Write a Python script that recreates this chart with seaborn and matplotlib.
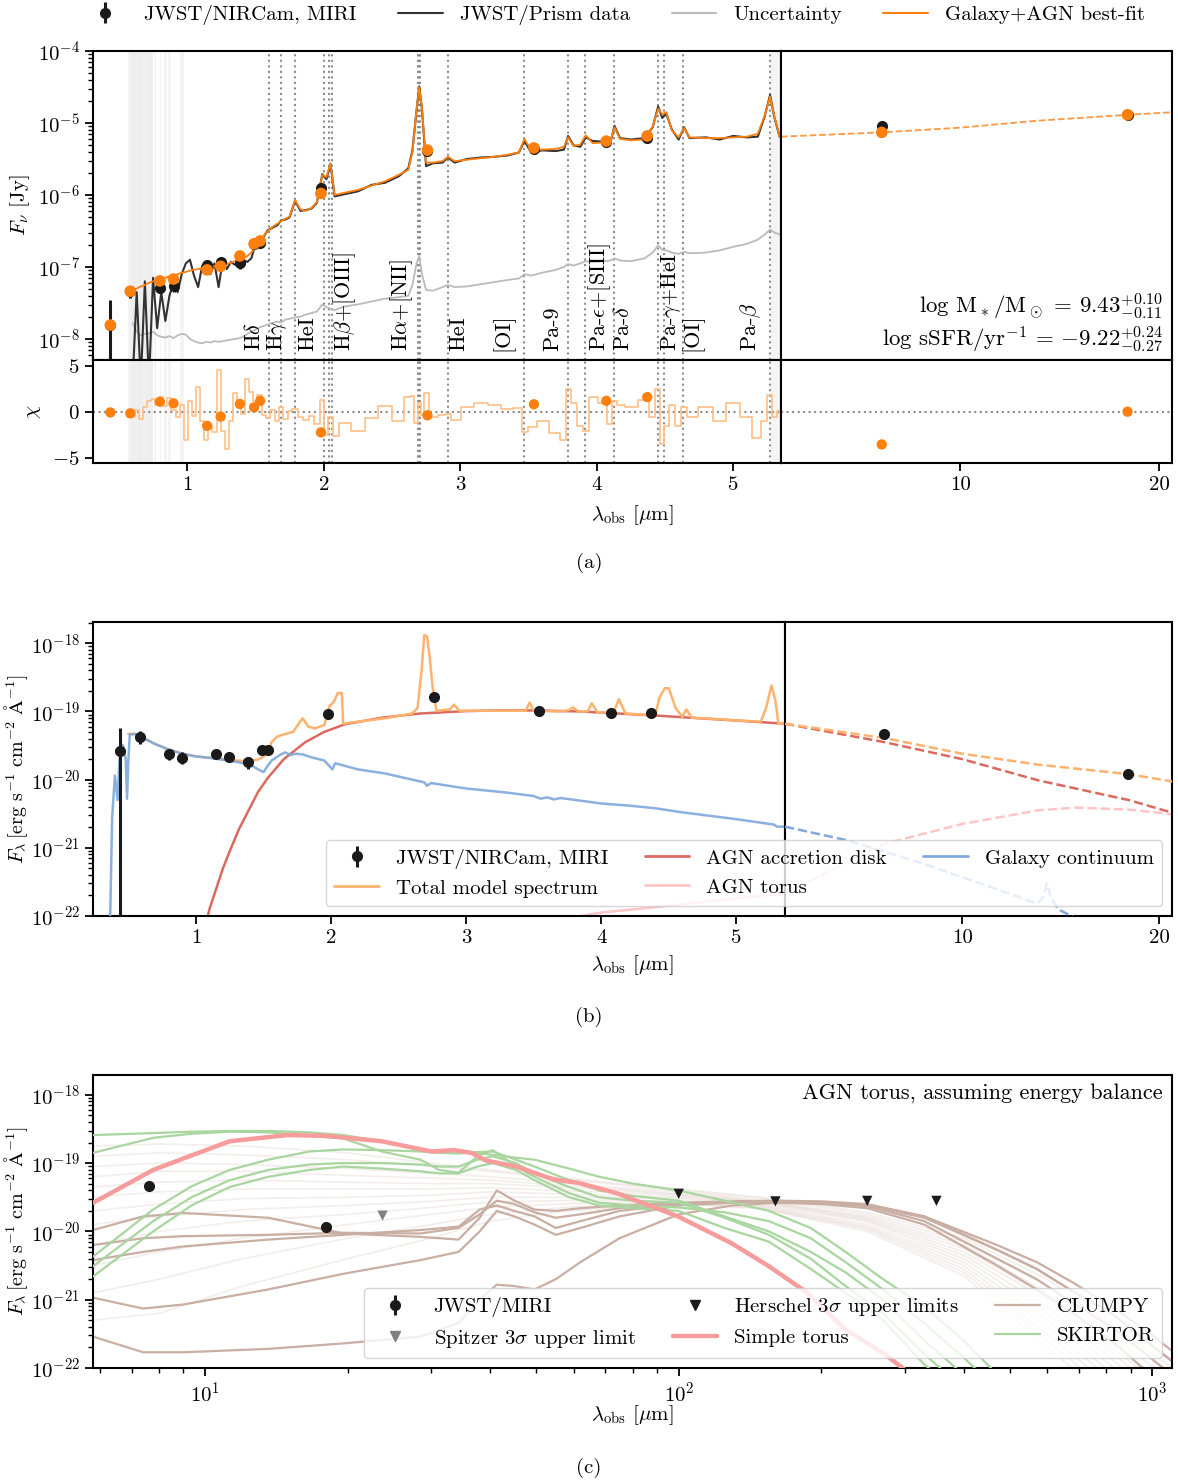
import numpy as np
import matplotlib
matplotlib.use("Agg")
import matplotlib.pyplot as plt
import matplotlib.ticker as mticker
import matplotlib.transforms as mtrans
from matplotlib.lines import Line2D
import seaborn as sns

# ---------------- panel (a): photometry ----------------
phot_wave = [0.437, 0.583, 0.80, 0.90, 1.146, 1.245, 1.386, 1.49, 1.535, 1.98,
             2.76, 3.54, 4.07, 4.37, 7.6, 17.9]
phot_fnu = [1.56e-8, 4.6e-8, 5.1e-8, 5.4e-8, 1.07e-7, 1.17e-7, 1.15e-7, 2.1e-7,
            2.15e-7, 1.25e-6, 4.1e-6, 4.3e-6, 5.4e-6, 6.1e-6, 9.1e-6, 1.30e-5]
phot_fnu_lo = [1.55e-8, 0.9e-8, 0.8e-8, 0.9e-8, 1.2e-8, 1.2e-8, 2.0e-8, 1.5e-8,
               1.5e-8, 0.08e-6, 0.1e-6, 0.1e-6, 0.15e-6, 0.15e-6, 0.3e-6, 0.5e-6]
phot_fnu_hi = [1.94e-8, 0.9e-8, 0.8e-8, 0.9e-8, 1.2e-8, 1.2e-8, 2.0e-8, 1.5e-8,
               1.5e-8, 0.08e-6, 0.1e-6, 0.1e-6, 0.15e-6, 0.15e-6, 0.3e-6, 0.5e-6]
model_phot_fnu = [1.56e-8, 4.6e-8, 6.4e-8, 6.8e-8, 9.1e-8, 1.02e-7, 1.42e-7, 2.1e-7,
                  2.3e-7, 1.05e-6, 4.2e-6, 4.5e-6, 5.6e-6, 6.6e-6, 7.4e-6, 1.30e-5]
phot_chi = [-0.05, -0.15, 1.1, 0.93, -1.5, -0.5, 0.86, 0.5, 1.2, -2.2,
            -0.36, 0.83, 1.2, 1.6, -3.5, 0.03]

# ---------------- panel (a): prism spectrum (log10 Jy) ----------------
spec_wave = [0.60, 0.63, 0.66, 0.69, 0.72, 0.75, 0.78, 0.81, 0.84, 0.87, 0.90, 0.93,
             0.96, 0.99, 1.02, 1.05, 1.08, 1.11, 1.14, 1.17, 1.20, 1.23, 1.26, 1.29,
             1.32, 1.35, 1.38, 1.41, 1.44, 1.47, 1.50, 1.53, 1.56, 1.59, 1.62, 1.66,
             1.69, 1.72, 1.75, 1.79, 1.83, 1.87, 1.91, 1.95, 1.99, 2.02, 2.05, 2.08,
             2.15, 2.25, 2.35, 2.45, 2.55, 2.62, 2.65, 2.68, 2.70, 2.72, 2.75, 2.80,
             2.87, 2.91, 2.96, 3.05, 3.15, 3.25, 3.35, 3.43, 3.47, 3.52, 3.60, 3.70,
             3.76, 3.79, 3.83, 3.88, 3.92, 3.97, 4.05, 4.10, 4.13, 4.17, 4.25, 4.35,
             4.41, 4.45, 4.48, 4.51, 4.55, 4.60, 4.64, 4.68, 4.80, 4.90, 5.00, 5.10,
             5.18, 5.23, 5.27, 5.30, 5.34]
model_log = [-7.33, -7.30, -7.27, -7.25, -7.22, -7.20, -7.18, -7.16, -7.15, -7.13, -7.12, -7.10,
             -7.08, -7.07, -7.05, -7.04, -7.03, -7.02, -7.01, -7.00, -6.99, -6.98, -6.97, -6.96,
             -6.94, -6.92, -6.90, -6.88, -6.85, -6.80, -6.72, -6.65, -6.57, -6.50, -6.45, -6.40,
             -6.36, -6.33, -6.30, -6.07, -6.20, -6.22, -6.18, -6.10, -5.72, -5.75, -5.56, -6.00,
             -5.97, -5.93, -5.87, -5.81, -5.72, -5.65, -5.40, -4.82, -4.50, -4.80, -5.55, -5.55,
             -5.53, -5.47, -5.53, -5.51, -5.49, -5.47, -5.44, -5.41, -5.22, -5.38, -5.37, -5.36,
             -5.33, -5.20, -5.32, -5.30, -5.17, -5.28, -5.27, -5.25, -5.06, -5.22, -5.24, -5.23,
             -5.05, -4.80, -4.88, -4.85, -5.10, -5.20, -5.07, -5.20, -5.21, -5.21, -5.20, -5.19,
             -5.15, -4.90, -4.63, -4.90, -5.19]
data_log = [-8.60, -7.35, -8.60, -7.20, -8.60, -7.15, -7.85, -7.35, -7.75, -7.40, -7.22, -7.35,
            -7.10, -6.95, -6.90, -7.12, -7.28, -6.98, -7.00, -7.10, -6.95, -7.28, -6.92, -7.03,
            -6.93, -6.97, -6.92, -6.90, -6.93, -6.88, -6.68, -6.66, -6.58, -6.49, -6.46, -6.42,
            -6.35, -6.34, -6.31, -6.08, -6.22, -6.21, -6.19, -6.11, -5.71, -5.78, -5.57, -6.02,
            -5.99, -5.95, -5.86, -5.83, -5.74, -5.63, -5.38, -4.83, -4.49, -4.81, -5.60, -5.56,
            -5.55, -5.48, -5.55, -5.50, -5.48, -5.47, -5.45, -5.41, -5.25, -5.41, -5.38, -5.39,
            -5.37, -5.18, -5.31, -5.33, -5.20, -5.25, -5.26, -5.28, -5.04, -5.21, -5.23, -5.21,
            -5.06, -4.77, -4.93, -4.87, -5.09, -5.23, -5.06, -5.21, -5.20, -5.23, -5.18, -5.20,
            -5.19, -4.91, -4.61, -4.91, -5.19]
unc_log = [-7.78, -7.90, -7.95, -7.93, -7.92, -7.90, -7.95, -7.97, -7.98, -7.96, -7.99, -7.95,
           -7.93, -7.94, -8.00, -8.03, -8.05, -8.06, -8.04, -8.05, -8.03, -8.04, -8.03, -8.02,
           -8.01, -8.00, -7.99, -7.97, -7.93, -7.90, -7.87, -7.84, -7.82, -7.80, -7.78, -7.76,
           -7.77, -7.73, -7.72, -7.70, -7.69, -7.66, -7.64, -7.62, -7.52, -7.56, -7.58, -7.60,
           -7.55, -7.52, -7.48, -7.44, -7.42, -7.40, -7.25, -6.95, -6.85, -7.10, -7.32, -7.33,
           -7.28, -7.25, -7.28, -7.27, -7.24, -7.21, -7.18, -7.16, -7.10, -7.12, -7.08, -7.04,
           -7.00, -6.96, -6.98, -6.95, -6.92, -6.93, -6.92, -6.91, -6.88, -6.91, -6.92, -6.88,
           -6.80, -6.70, -6.76, -6.77, -6.80, -6.82, -6.79, -6.81, -6.80, -6.77, -6.72, -6.68,
           -6.62, -6.55, -6.48, -6.52, -6.55]
resid_chi = [-0.5, 0.2, -0.8, 0.5, 1.2, 1.4, 0.8, 1.6, 0.6, 1.5, 0.2, -0.5,
             0.7, -3.0, 1.2, -0.4, 2.7, -1.0, -3.0, -1.5, -2.2, 4.5, -2.0, -4.0,
             -1.0, 2.0, 1.0, -0.2, 3.6, 2.2, 1.2, 1.8, -0.3, -0.6, 0.2, -1.0,
             0.5, -0.8, 0.1, 0.3, -0.5, -0.9, -0.4, -1.3, 1.3, -2.5, -0.5, -2.6,
             -1.2, -2.0, -0.6, 0.6, -1.0, 1.6, 1.7, -1.2, 1.0, -0.3, 2.0, -0.5,
             -0.3, -0.2, -0.9, 0.5, 1.0, 0.7, 0.3, 0.4, -2.2, -1.6, -1.0, -2.3,
             -3.0, 2.5, 1.0, -1.5, -2.0, 1.6, 1.0, -1.3, 1.2, 0.8, 0.5, 1.3,
             -0.5, 2.5, -3.5, -1.5, 0.8, -1.5, 0.5, -0.5, 0.5, -1.0, 1.0, -0.5,
             -2.8, -1.0, 1.8, -0.5, 0.1]

# best-fit beyond the prism range (log10 Jy)
mir_wave = [5.35, 7.6, 10.0, 13.0, 18.0, 21.0]
mir_model_log = [-5.19, -5.13, -5.065, -4.97, -4.885, -4.85]

# masked regions and emission lines
mask_lo = [0.57, 0.58, 0.60, 0.64, 0.70, 0.72, 0.76, 0.80, 0.83, 0.86, 0.95, 5.28]
mask_hi = [0.75, 0.74, 0.62, 0.66, 0.71, 0.75, 0.77, 0.81, 0.85, 0.88, 0.98, 5.36]
line_wave = [1.599, 1.687, 1.789, 2.000, 2.038, 2.058, 2.691, 2.697, 2.706, 2.908,
             3.466, 3.792, 3.915, 4.130, 4.450, 4.490, 4.635, 5.270]
label_wave = [1.49, 1.66, 1.885, 2.155, 2.57, 2.99, 3.31, 3.675, 4.02, 4.19, 4.545, 4.70, 5.13]
label_text = [r"H$\delta$", r"H$\gamma$", "HeI", r"H$\beta$+[OIII]", r"H$\alpha$+[NII]",
              "HeI", "[OI]", "Pa-9", r"Pa-$\epsilon$+[SIII]", r"Pa-$\delta$",
              r"Pa-$\gamma$+HeI", "[OI]", r"Pa-$\beta$"]

# ---------------- panel (b): F_lambda (erg/s/cm2/A) ----------------
phot_flam = [2.6e-20, 4.2e-20, 2.4e-20, 2.1e-20, 2.4e-20, 2.15e-20, 1.8e-20, 2.7e-20,
             2.7e-20, 9.3e-20, 1.65e-19, 1.03e-19, 9.6e-20, 9.4e-20, 4.6e-20, 1.2e-20]
phot_flam_lo = [2.59e-20, 0.9e-20, 0.45e-20, 0.4e-20, 0.25e-20, 0.35e-20, 0.35e-20, 0.15e-20,
                0.15e-20, 0.4e-20, 0.5e-20, 0.3e-20, 0.3e-20, 0.3e-20, 0.2e-20, 0.1e-20]
phot_flam_hi = [3.2e-20, 0.9e-20, 0.45e-20, 0.4e-20, 0.25e-20, 0.35e-20, 0.35e-20, 0.15e-20,
                0.15e-20, 0.4e-20, 0.5e-20, 0.3e-20, 0.3e-20, 0.3e-20, 0.2e-20, 0.1e-20]

total_wave = [0.50, 0.55, 0.60, 0.70, 0.80, 0.90, 1.00, 1.10, 1.20, 1.30, 1.40, 1.47, 1.53,
              1.56, 1.60, 1.66, 1.72, 1.76, 1.79, 1.83, 1.88, 1.95, 1.99, 2.02, 2.05, 2.08,
              2.09, 2.20, 2.40, 2.60, 2.64, 2.67, 2.69, 2.71, 2.73, 2.75, 2.78, 2.88, 2.91,
              2.95, 3.20, 3.44, 3.47, 3.50, 3.70, 3.76, 3.79, 3.83, 3.90, 3.93, 3.97, 4.09,
              4.13, 4.18, 4.40, 4.43, 4.47, 4.50, 4.55, 4.60, 4.63, 4.67, 5.00, 5.18, 5.22,
              5.26, 5.29, 5.31, 5.36]
total_log = [-19.33, -19.33, -19.38, -19.48, -19.56, -19.62, -19.66, -19.68, -19.70, -19.72,
             -19.73, -19.70, -19.62, -19.45, -19.37, -19.33, -19.30, -19.18, -19.10, -19.22,
             -19.25, -19.20, -18.92, -18.86, -18.73, -18.73, -19.18, -19.15, -19.10, -19.03,
             -18.95, -18.40, -17.88, -17.90, -18.20, -18.62, -18.99, -18.97, -18.90, -18.99,
             -18.99, -18.99, -18.87, -18.99, -19.00, -18.98, -18.94, -19.00, -19.00, -18.88,
             -19.01, -19.02, -18.82, -19.03, -19.06, -18.80, -18.66, -18.66, -18.95, -19.08,
             -18.97, -19.09, -19.13, -19.15, -18.95, -18.62, -18.85, -19.17, -19.18]
total_mir_wave = [5.36, 7.6, 10.0, 13.05, 17.96, 21.0]
total_mir_log = [-19.18, -19.39, -19.62, -19.78, -19.92, -20.03]

disk_wave = [1.05, 1.10, 1.15, 1.20, 1.25, 1.32, 1.39, 1.46, 1.53, 1.65, 1.81, 1.95, 2.10,
             2.38, 2.66, 3.00, 3.23, 3.50, 3.84, 4.40, 4.97, 5.36]
disk_log = [-22.3, -21.9, -21.6, -21.3, -21.05, -20.72, -20.45, -20.18, -19.98, -19.70,
            -19.45, -19.30, -19.19, -19.09, -19.03, -18.995, -18.985, -18.985, -19.00, -19.06,
            -19.13, -19.18]
disk_mir_wave = [5.36, 7.6, 10.0, 13.05, 17.96, 21.0]
disk_mir_log = [-19.18, -19.45, -19.70, -20.01, -20.30, -20.49]

torus_wave = [3.70, 4.00, 4.50, 5.00, 5.36]
torus_log = [-22.05, -21.95, -21.85, -21.74, -21.67]
torus_mir_wave = [5.36, 7.6, 10.0, 13.05, 14.9, 17.96, 21.0]
torus_mir_log = [-21.67, -20.94, -20.65, -20.45, -20.41, -20.44, -20.51]

gal_wave = [0.36, 0.38, 0.40, 0.42, 0.44, 0.46, 0.48, 0.49, 0.50, 0.51, 0.55, 0.60, 0.70,
            0.80, 0.90, 1.00, 1.10, 1.20, 1.30, 1.40, 1.47, 1.50, 1.53, 1.56, 1.62, 1.66,
            1.70, 1.74, 1.79, 1.85, 1.95, 2.01, 2.03, 2.20, 2.40, 2.69, 2.71, 2.74, 3.00,
            3.30, 3.50, 3.55, 3.60, 3.65, 3.70, 4.00, 4.20, 4.40, 4.60, 4.80, 5.00, 5.28,
            5.30, 5.36]
gal_log = [-22.5, -20.55, -19.94, -20.30, -19.47, -19.50, -19.70, -20.28, -19.70, -19.34,
           -19.33, -19.38, -19.48, -19.56, -19.62, -19.66, -19.68, -19.71, -19.74, -19.78,
           -19.86, -19.89, -19.80, -19.72, -19.64, -19.60, -19.64, -19.62, -19.63, -19.67,
           -19.72, -19.85, -19.76, -19.85, -19.91, -20.04, -20.09, -20.05, -20.13, -20.19,
           -20.24, -20.28, -20.26, -20.29, -20.27, -20.35, -20.38, -20.42, -20.48, -20.53,
           -20.58, -20.66, -20.69, -20.69]
gal_mir_wave = [5.36, 6.67, 8.7, 11.4, 13.0, 13.3, 13.45, 13.65, 14.0, 15.0, 17.0]
gal_mir_log = [-20.69, -20.89, -21.23, -21.62, -21.82, -21.72, -21.52, -21.72, -21.90, -22.05, -22.3]

# ---------------- panel (c): torus models ----------------
miri_wave = [7.63, 18.0]
miri_flam = [4.6e-20, 1.17e-20]
spitzer_wave = [23.7]
spitzer_flam = [1.7e-20]
herschel_wave = [100, 160, 250, 350]
herschel_flam = [3.55e-20, 2.75e-20, 2.8e-20, 2.8e-20]

simple_wave = [5.8, 6.06, 7.77, 9.02, 11.27, 14.9, 17.9, 23.6, 30.1, 33.6, 36.5, 39.1, 45.3,
               54.5, 61.5, 74, 99.6, 129, 155, 187, 225, 270, 297, 330]
simple_log = [-19.58, -19.51, -19.10, -18.93, -18.68, -18.59, -18.60, -18.68, -18.83, -18.81,
              -18.85, -18.96, -19.05, -19.24, -19.29, -19.44, -19.78, -20.17, -20.51, -20.90,
              -21.44, -21.78, -22.00, -22.30]

clumpy_wave = [5.8, 7.4, 9, 13.6, 19.6, 28.5, 34.3, 38, 41.3, 45, 49.6, 55, 62, 75, 100,
               130, 160, 200, 250, 330, 470, 570, 680, 820, 990, 1100]
clumpy_1 = [-19.98, -19.78, -19.73, -19.80, -20.03, -20.08, -20.12, -19.80, -19.40, -19.55,
            -19.68, -19.70, -19.66, -19.62, -19.58, -19.56, -19.55, -19.56, -19.60, -19.78,
            -20.27, -20.55, -20.88, -21.20, -21.65, -21.90]
clumpy_2 = [-20.42, -20.30, -20.22, -20.12, -20.05, -19.98, -19.93, -19.68, -19.62, -19.70,
            -19.78, -19.95, -19.85, -19.70, -19.60, -19.57, -19.56, -19.58, -19.63, -19.85,
            -20.40, -20.70, -21.05, -21.40, -21.85, -22.10]
clumpy_3 = [-20.97, -21.13, -21.07, -20.85, -20.62, -20.42, -20.30, -20.00, -19.70, -19.78,
            -19.90, -20.05, -19.95, -19.78, -19.62, -19.58, -19.56, -19.57, -19.62, -19.80,
            -20.27, -20.55, -20.88, -21.20, -21.65, -21.90]
clumpy_4 = [-21.54, -21.77, -21.77, -21.72, -21.64, -21.54, -21.34, -21.00, -20.78, -20.80,
            -20.85, -20.70, -20.45, -20.10, -19.75, -19.62, -19.58, -19.60, -19.66, -19.90,
            -20.50, -20.85, -21.20, -21.60, -22.10, -22.30]
clumpy_5 = [-20.20, -20.10, -20.07, -20.05, -20.02, -20.03, -19.95, -19.75, -19.55, -19.60,
            -19.72, -19.80, -19.75, -19.66, -19.59, -19.57, -19.56, -19.57, -19.61, -19.78,
            -20.20, -20.45, -20.75, -21.10, -21.50, -21.75]

skirtor_wave = [5.8, 7.77, 9.36, 11.27, 13.6, 16.6, 19.6, 23.6, 28.5, 31.2, 34.3, 37.6, 40.5,
                45.3, 49.6, 58.7, 67.9, 80, 100, 125, 155, 190, 225, 270, 330, 400, 520]
skirtor_1 = [-18.59, -18.56, -18.54, -18.53, -18.53, -18.55, -18.59, -18.68, -18.81, -18.83,
             -18.83, -18.85, -18.88, -18.92, -18.95, -19.08, -19.20, -19.30, -19.40, -19.55,
             -19.70, -19.95, -20.30, -20.70, -21.10, -21.60, -22.40]
skirtor_2 = [-18.85, -18.63, -18.57, -18.54, -18.55, -18.60, -18.64, -18.83, -18.95, -19.10,
             -19.14, -18.90, -18.81, -19.05, -19.20, -19.44, -19.58, -19.62, -19.65, -19.72,
             -19.85, -20.10, -20.45, -20.85, -21.35, -21.85, -22.60]
skirtor_3 = [-20.37, -19.68, -19.34, -19.10, -18.95, -18.83, -18.80, -18.81, -18.83, -18.85,
             -18.86, -18.84, -18.83, -18.95, -19.05, -19.25, -19.40, -19.48, -19.55, -19.78,
             -20.00, -20.30, -20.60, -21.00, -21.60, -22.10, -22.70]
skirtor_4 = [-20.51, -19.85, -19.50, -19.25, -19.10, -19.02, -19.00, -19.00, -19.02, -19.05,
             -19.05, -18.95, -18.90, -19.00, -19.15, -19.35, -19.50, -19.55, -19.58, -19.80,
             -20.05, -20.40, -20.80, -21.20, -21.80, -22.30, -23.00]
skirtor_5 = [-20.66, -20.00, -19.62, -19.35, -19.20, -19.10, -19.05, -19.08, -19.12, -19.15,
             -19.15, -19.05, -19.00, -19.10, -19.25, -19.50, -19.62, -19.66, -19.70, -19.95,
             -20.15, -20.55, -20.90, -21.30, -21.95, -22.40, -23.00]

faint_wave = [5.8, 8, 12, 20, 30, 40, 55, 75, 100, 150, 250, 400, 600, 1100]
faint_1 = [-18.75, -18.72, -18.75, -18.85, -19.00, -19.10, -19.20, -19.30, -19.38, -19.50, -19.72, -20.10, -20.70, -22.00]
faint_2 = [-18.90, -18.85, -18.88, -18.95, -19.05, -19.12, -19.22, -19.32, -19.40, -19.52, -19.75, -20.15, -20.80, -22.20]
faint_3 = [-19.05, -19.00, -19.02, -19.08, -19.15, -19.20, -19.28, -19.36, -19.42, -19.55, -19.78, -20.20, -20.90, -22.30]
faint_4 = [-19.20, -19.12, -19.12, -19.18, -19.22, -19.25, -19.32, -19.38, -19.45, -19.56, -19.80, -20.25, -20.95, -22.40]
faint_5 = [-19.35, -19.28, -19.25, -19.28, -19.30, -19.30, -19.35, -19.40, -19.46, -19.57, -19.82, -20.30, -21.00, -22.50]
faint_6 = [-19.50, -19.42, -19.38, -19.38, -19.38, -19.36, -19.40, -19.43, -19.48, -19.58, -19.84, -20.35, -21.10, -22.60]
faint_7 = [-19.70, -19.60, -19.52, -19.50, -19.47, -19.42, -19.45, -19.47, -19.50, -19.60, -19.86, -20.40, -21.20, -22.70]
faint_8 = [-19.90, -19.78, -19.68, -19.62, -19.56, -19.50, -19.50, -19.50, -19.52, -19.62, -19.90, -20.45, -21.30, -22.80]
faint_9 = [-20.20, -20.00, -19.85, -19.75, -19.65, -19.57, -19.55, -19.54, -19.55, -19.63, -19.93, -20.50, -21.40, -22.90]
faint_10 = [-20.50, -20.30, -20.10, -19.90, -19.75, -19.65, -19.60, -19.57, -19.57, -19.65, -19.95, -20.55, -21.50, -23.00]
faint_11 = [-20.90, -20.70, -20.40, -20.10, -19.90, -19.75, -19.66, -19.60, -19.58, -19.66, -19.97, -20.60, -21.60, -23.10]
faint_12 = [-21.30, -21.20, -20.80, -20.40, -20.10, -19.85, -19.72, -19.64, -19.60, -19.67, -20.00, -20.65, -21.70, -23.20]

# ---------------- style ----------------
sns.set_theme(style="ticks")
FS = 15
plt.rcParams.update({
    "font.family": ["cmr10"],
    "mathtext.fontset": "cm",
    "axes.formatter.use_mathtext": True,
    "axes.unicode_minus": False,
    "font.size": FS,
    "axes.labelsize": FS,
    "xtick.labelsize": FS,
    "ytick.labelsize": FS,
    "legend.fontsize": FS,
    "axes.linewidth": 1.5,
    "axes.edgecolor": "black",
    "axes.labelcolor": "black",
    "text.color": "black",
    "xtick.color": "black",
    "ytick.color": "black",
    "xtick.major.size": 6,
    "ytick.major.size": 6,
    "xtick.minor.size": 3.5,
    "ytick.minor.size": 3.5,
    "xtick.major.width": 1.3,
    "ytick.major.width": 1.3,
    "ytick.minor.width": 1.0,
    "xtick.minor.width": 1.0,
})
LEG = dict(handlelength=2.15, handletextpad=0.8, columnspacing=2.0)
LEG_BOX = dict(handlelength=2.15, handletextpad=0.8, columnspacing=1.75)

C_ORANGE = "#ff7f0e"
C_DATA = "#333333"
C_UNC = "#bbbbbb"
C_RES = "#ffbf86"
C_TOTAL = "#ffb26e"
C_DISK = "#db6a5e"
C_TORUS = "#ffc4c4"
C_GAL = "#7fa8dc"
C_CLUMPY = "#c9aea3"
C_SKIRTOR = "#a8d69e"
C_SIMPLE = "#f79b9b"
C_LINE = "#8c8c8c"

W, H = 1178, 1484
fig = plt.figure(figsize=(W / 100, H / 100), dpi=100)


def rect(x0, y0, x1, y1):
    return [x0 / W, 1 - y1 / H, (x1 - x0) / W, (y1 - y0) / H]


def lp(ax, x, logy, **kw):
    sns.lineplot(x=list(x), y=10 ** np.asarray(logy), ax=ax, estimator=None,
                 sort=False, legend=False, **kw)


def split_axes(ax_l, ax_r, xl, xr, ylim, logy=True):
    for ax in (ax_l, ax_r):
        if logy:
            ax.set_yscale("log")
        ax.set_ylim(*ylim)
    ax_l.set_xlim(*xl)
    ax_r.set_xscale("log")
    ax_r.set_xlim(*xr)
    ax_l.set_xticks([1, 2, 3, 4, 5])
    ax_l.set_xticklabels(["1", "2", "3", "4", "5"])
    ax_r.set_xticks([10, 20])
    ax_r.set_xticklabels(["10", "20"])
    ax_r.xaxis.set_minor_locator(mticker.NullLocator())
    ax_r.tick_params(axis="y", which="both", left=False, labelleft=False)


pw = np.array(phot_wave)
left = pw < 5.35
right = ~left

# ======================= panel (a) =======================
axA = fig.add_axes(rect(93, 51, 781, 360))
axA2 = fig.add_axes(rect(781, 51, 1172, 360))
axR = fig.add_axes(rect(93, 360, 781, 463))
axR2 = fig.add_axes(rect(781, 360, 1172, 463))
split_axes(axA, axA2, (0.31, 5.35), (5.35, 20.9), (5.1e-9, 1e-4))
split_axes(axR, axR2, (0.31, 5.35), (5.35, 20.9), (-5.5, 5.6), logy=False)
for ax in (axA, axA2):
    ax.tick_params(axis="x", which="both", bottom=False, labelbottom=False)
axR.set_yticks([-5, 0, 5])

for ax in (axA, axR):
    for lo, hi in zip(mask_lo, mask_hi):
        ax.axvspan(lo, hi, color="#ececec", alpha=0.55, lw=0, zorder=0)
    for lw_ in line_wave:
        ax.axvline(lw_, color=C_LINE, ls=":", lw=1.5, zorder=1)

lp(axA, spec_wave, unc_log, color=C_UNC, lw=1.3, zorder=2)
lp(axA, spec_wave, data_log, color=C_DATA, lw=1.5, zorder=3)
lp(axA, spec_wave, model_log, color=C_ORANGE, lw=1.3, zorder=4)
lp(axA2, mir_wave, mir_model_log, color=C_ORANGE, lw=1.3, ls="--", alpha=0.8, zorder=2)

yerr = np.array([phot_fnu_lo, phot_fnu_hi])
for ax, m in ((axA, left), (axA2, right)):
    eb = ax.errorbar(pw[m], np.array(phot_fnu)[m], yerr=yerr[:, m], fmt="o", color="k",
                     ms=7, elinewidth=2.2, capsize=0, zorder=5)
    if ax is axA:
        eb_a = eb
    sns.scatterplot(x=pw[m], y=np.array(model_phot_fnu)[m], ax=ax, color=C_ORANGE,
                    s=70, edgecolor="none", zorder=6, legend=False)

trans = mtrans.blended_transform_factory(axA.transData, axA.transAxes)
for xw, txt in zip(label_wave, label_text):
    axA.text(xw, 0.03, txt, rotation=90, ha="center", va="bottom", transform=trans,
             fontsize=16, zorder=7)

axA2.text(0.977, 0.171, r"log M$_*$/M$_\odot$ = $9.43^{+0.10}_{-0.11}$",
          transform=axA2.transAxes, ha="right", va="center", fontsize=16.5)
axA2.text(0.977, 0.066, r"log sSFR/yr$^{-1}$ = $-9.22^{+0.24}_{-0.27}$",
          transform=axA2.transAxes, ha="right", va="center", fontsize=16.5)

for ax in (axR, axR2):
    ax.axhline(0, color=C_LINE, ls=":", lw=1.5, zorder=1)
sns.lineplot(x=spec_wave, y=resid_chi, ax=axR, color=C_RES, lw=1.2, drawstyle="steps-mid",
             estimator=None, sort=False, legend=False, zorder=2)
for ax, m in ((axR, left), (axR2, right)):
    sns.scatterplot(x=pw[m], y=np.array(phot_chi)[m], ax=ax, color=C_ORANGE, s=55,
                    edgecolor="none", zorder=5, legend=False)

axA.set_ylabel(r"$F_\nu$ [Jy]")
axA.yaxis.set_label_coords(-0.088, 0.5)
axR.set_ylabel(r"$\chi$")
axR.yaxis.set_label_coords(-0.072, 0.5)

fig.legend([eb_a, Line2D([], [], color=C_DATA, lw=1.5), Line2D([], [], color=C_UNC, lw=1.5),
            Line2D([], [], color=C_ORANGE, lw=1.5)],
           ["JWST/NIRCam, MIRI", "JWST/Prism data", "Uncertainty", "Galaxy+AGN best-fit"],
           loc="center", bbox_to_anchor=(0.521, 1 - 15 / H), ncol=4, frameon=False, **LEG)

# ======================= panel (b) =======================
axB = fig.add_axes(rect(93, 622, 785, 916))
axB2 = fig.add_axes(rect(785, 622, 1172, 916))
split_axes(axB, axB2, (0.238, 5.36), (5.36, 20.9), (1e-22, 2.05e-18))

lp(axB, total_wave, total_log, color=C_TOTAL, lw=1.8, zorder=3)
lp(axB, gal_wave, gal_log, color=C_GAL, lw=1.8, alpha=0.9, zorder=4)
lp(axB, disk_wave, disk_log, color=C_DISK, lw=1.8, zorder=2)
lp(axB, torus_wave, torus_log, color=C_TORUS, lw=1.8, zorder=2)
lp(axB2, total_mir_wave, total_mir_log, color=C_TOTAL, lw=1.8, ls="--", zorder=3)
lp(axB2, gal_mir_wave, gal_mir_log, color=C_GAL, lw=1.8, ls="--", zorder=3)
lp(axB2, disk_mir_wave, disk_mir_log, color=C_DISK, lw=1.8, ls="--", zorder=2)
lp(axB2, torus_mir_wave, torus_mir_log, color=C_TORUS, lw=1.8, ls="--", zorder=2)

yerr_b = np.array([phot_flam_lo, phot_flam_hi])
for ax, m in ((axB, left), (axB2, right)):
    eb = ax.errorbar(pw[m], np.array(phot_flam)[m], yerr=yerr_b[:, m], fmt="o", color="k",
                     ms=7, elinewidth=2.2, capsize=0, zorder=6)
    if ax is axB:
        eb_b = eb

flam_label = r"$F_\lambda\,[\mathrm{erg\ s^{-1}\ cm^{-2}\ \AA^{-1}}]$"
axB.set_ylabel(flam_label, fontsize=14.5)
axB.yaxis.set_label_coords(-0.091, 0.5)

fig.legend([eb_b, Line2D([], [], color=C_TOTAL, lw=2), Line2D([], [], color=C_DISK, lw=2),
            Line2D([], [], color=C_TORUS, lw=2), Line2D([], [], color=C_GAL, lw=2)],
           ["JWST/NIRCam, MIRI", "Total model spectrum", "AGN accretion disk", "AGN torus",
            "Galaxy continuum"],
           loc="lower right", bbox_to_anchor=(1162 / W, 1 - 906 / H), borderaxespad=0,
           ncol=3, framealpha=0.8, edgecolor="#cccccc", **LEG_BOX)

# ======================= panel (c) =======================
axC = fig.add_axes(rect(93, 1075, 1172, 1368))
axC.set_xscale("log")
axC.set_yscale("log")
axC.set_xlim(5.8, 1100)
axC.set_ylim(1e-22, 1.95e-18)

for f in (faint_1, faint_2, faint_3, faint_4, faint_5, faint_6, faint_7, faint_8, faint_9,
          faint_10, faint_11, faint_12):
    lp(axC, faint_wave, f, color="#d8c6be", lw=1.2, alpha=0.3, zorder=1)
for c in (clumpy_1, clumpy_2, clumpy_3, clumpy_4, clumpy_5):
    lp(axC, clumpy_wave, c, color=C_CLUMPY, lw=1.6, zorder=2)
for s in (skirtor_1, skirtor_2, skirtor_3, skirtor_4, skirtor_5):
    lp(axC, skirtor_wave, s, color=C_SKIRTOR, lw=1.6, zorder=3)
lp(axC, simple_wave, simple_log, color=C_SIMPLE, lw=3.2, zorder=4)

eb_c = axC.errorbar(miri_wave, miri_flam, yerr=[0.03e-20, 0.03e-20], fmt="o", color="k",
                    ms=7, elinewidth=2.2, capsize=0, zorder=6)
sns.scatterplot(x=spitzer_wave, y=spitzer_flam, ax=axC, marker="v", color="#808080",
                s=55, edgecolor="none", zorder=6, legend=False)
sns.scatterplot(x=herschel_wave, y=herschel_flam, ax=axC, marker="v", color="k",
                s=55, edgecolor="none", zorder=6, legend=False)

axC.text(0.991, 0.972, "AGN torus, assuming energy balance", transform=axC.transAxes,
         ha="right", va="top", fontsize=16)
axC.set_ylabel(flam_label, fontsize=14.5)
axC.yaxis.set_label_coords(-0.058, 0.5)

fig.legend([eb_c, Line2D([], [], ls="none", marker="v", color="#808080", ms=7),
            Line2D([], [], ls="none", marker="v", color="k", ms=7),
            Line2D([], [], color=C_SIMPLE, lw=3.2),
            Line2D([], [], color=C_CLUMPY, lw=1.6), Line2D([], [], color=C_SKIRTOR, lw=1.6)],
           ["JWST/MIRI", r"Spitzer 3$\sigma$ upper limit", r"Herschel 3$\sigma$ upper limits",
            "Simple torus", "CLUMPY", "SKIRTOR"],
           loc="lower right", bbox_to_anchor=(1162 / W, 1 - 1358 / H), borderaxespad=0,
           ncol=3, framealpha=0.8, edgecolor="#cccccc", **LEG_BOX)

# ---------- axis labels and panel tags ----------
xlab = r"$\lambda_\mathrm{obs}$ [$\mu$m]"
for ypix in (515, 965, 1415):
    fig.text(0.537, 1 - ypix / H, xlab, ha="center", va="center")
for ypix, tag in ((563, "(a)"), (1017, "(b)"), (1468, "(c)")):
    fig.text(0.5, 1 - ypix / H, tag, ha="center", va="center")

fig.savefig("out.png", dpi=100)
